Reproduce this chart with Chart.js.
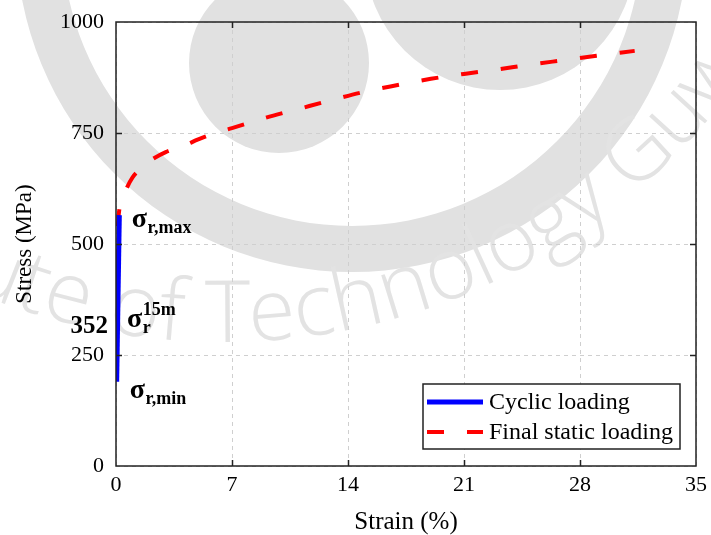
<!DOCTYPE html>
<html>
<head>
<meta charset="utf-8">
<script src="https://cdn.jsdelivr.net/npm/chart.js@4.4.1/dist/chart.umd.min.js"></script>
<style>
  html, body { margin: 0; padding: 0; background: #fff; }
  #wrap { width: 711px; height: 535px; position: relative; }
</style>
</head>
<body>
<div id="wrap"><canvas id="c"></canvas></div>
<script>
// Cyclic loading branch (strain %, stress MPa)
const cyclicStrain = [0.04, 0.20];
const cyclicStress = [190, 565];

// Final static loading branch (strain %, stress MPa)
const staticStrain = [0.0, 0.15, 0.35, 0.6, 1.0, 1.5, 2.0, 3.0, 4.0, 5.0, 6.0, 7.0, 9.0, 11.0, 13.0, 15.0, 17.0, 19.0, 21.0, 23.0, 25.0, 27.0, 29.0, 31.3];
const staticStress = [450, 560, 598, 622, 650, 670, 686, 707, 720, 736, 750, 761, 784, 804, 824, 843, 858, 872, 883, 893, 904, 914, 924, 935];

// Axis ticks
const xTicks = [0, 7, 14, 21, 28, 35];
const yTicks = [0, 250, 500, 750, 1000];

// Series names
const seriesNames = ['Cyclic loading', 'Final static loading'];

// Residual stress after 15 minutes of relaxation (MPa)
const residualAmplitude = 352;

const SERIF = "'Liberation Serif', 'Times New Roman', serif";
const WATERMARK_TEXT = 'Institute of Technology Guwahati';

const toPoints = (xs, ys) => xs.map((x, i) => ({ x, y: ys[i] }));

// Faint institutional watermark behind the figure
const watermarkPlugin = {
  id: 'watermark',
  beforeDraw(chart) {
    const { ctx } = chart;
    ctx.save();
    ctx.fillStyle = '#e1e1e1';
    // outer ring
    ctx.beginPath();
    ctx.arc(352, -64, 336, 0, Math.PI * 2);
    ctx.arc(352, -64, 290, 0, Math.PI * 2, true);
    ctx.fill();
    // inner discs
    ctx.beginPath();
    ctx.arc(279, 63, 90, 0, Math.PI * 2);
    ctx.fill();
    ctx.beginPath();
    ctx.arc(500, -45, 135, 0, Math.PI * 2);
    ctx.fill();

    // curved lettering around the ring
    const cx = 223, cy = -298, R = 640;
    ctx.font = "300 86px 'Open Sans', 'DejaVu Sans', sans-serif";
    ctx.fillStyle = '#e3e3e3';
    ctx.textAlign = 'center';
    ctx.textBaseline = 'alphabetic';
    const lead = ctx.measureText('Institute of ').width;
    let theta = 91.6 * Math.PI / 180 + lead / R;
    for (const ch of WATERMARK_TEXT) {
      const w = ctx.measureText(ch).width;
      const mid = theta - (w / 2) / R;
      ctx.save();
      ctx.translate(cx + R * Math.cos(mid), cy + R * Math.sin(mid));
      ctx.rotate(mid - Math.PI / 2);
      ctx.fillText(ch, 0, 0);
      ctx.restore();
      theta -= w / R;
    }
    ctx.restore();
  }
};

// Frame around the plotting area with inward tick marks on all sides
const framePlugin = {
  id: 'frame',
  afterDatasetsDraw(chart) {
    const { ctx, chartArea: a, scales: { x, y } } = chart;
    ctx.save();
    ctx.strokeStyle = '#222';
    ctx.lineWidth = 1.5;
    ctx.strokeRect(a.left, a.top, a.right - a.left, a.bottom - a.top);
    const tl = 6;
    ctx.beginPath();
    xTicks.slice(1, -1).forEach(v => {
      const px = Math.round(x.getPixelForValue(v)) + 0.5;
      ctx.moveTo(px, a.top); ctx.lineTo(px, a.top + tl);
      ctx.moveTo(px, a.bottom); ctx.lineTo(px, a.bottom - tl);
    });
    yTicks.slice(1, -1).forEach(v => {
      const py = Math.round(y.getPixelForValue(v)) + 0.5;
      ctx.moveTo(a.left, py); ctx.lineTo(a.left + tl, py);
      ctx.moveTo(a.right, py); ctx.lineTo(a.right - tl, py);
    });
    ctx.stroke();
    ctx.restore();
  }
};

// Sigma labels next to the cyclic branch
const sigmaPlugin = {
  id: 'sigmaLabels',
  afterDatasetsDraw(chart) {
    const { ctx, scales: { x, y } } = chart;
    const big = `bold 28px ${SERIF}`;
    const small = `bold 18px ${SERIF}`;
    ctx.save();
    ctx.fillStyle = '#000';
    ctx.textBaseline = 'alphabetic';
    ctx.textAlign = 'left';

    const sigma = (px, py, sub, sup) => {
      ctx.font = big;
      ctx.fillText('σ', px, py);
      const w = ctx.measureText('σ').width;
      ctx.font = small;
      if (sub) ctx.fillText(sub, px + w + 0.5, py + 6);
      if (sup) ctx.fillText(sup, px + w + 0.5, py - 12);
    };

    // upper end of the cycle
    const tx = x.getPixelForValue(cyclicStrain[1]);
    const ty = y.getPixelForValue(cyclicStress[1]);
    sigma(tx + 12.5, ty + 12, 'r,max');

    // lower end of the cycle
    const bx = x.getPixelForValue(cyclicStrain[0]);
    const by = y.getPixelForValue(cyclicStress[0]);
    sigma(bx + 13, by + 16, 'r,min');

    // residual stress after 15 minutes
    const ry = y.getPixelForValue(residualAmplitude);
    const rx = x.getPixelForValue(0);
    ctx.font = big;
    ctx.fillText('σ', rx + 11, ry + 17);
    const w = ctx.measureText('σ').width;
    ctx.font = small;
    ctx.fillText('r', rx + 11 + w + 0.5, ry + 23);
    ctx.fillText('15m', rx + 11 + w + 0.5, ry + 5);

    ctx.font = `bold 25px ${SERIF}`;
    ctx.textAlign = 'right';
    ctx.fillText(String(residualAmplitude), rx - 8, ry + 23);
    ctx.restore();
  }
};

// Boxed legend in the lower-right corner of the plot
const legendBoxPlugin = {
  id: 'legendBox',
  afterDraw(chart) {
    const { ctx, chartArea: a } = chart;
    const w = 257, h = 65;
    const left = a.right - 16 - w;
    const top = a.bottom - 17 - h;
    ctx.save();
    ctx.fillStyle = '#fff';
    ctx.fillRect(left, top, w, h);
    ctx.strokeStyle = '#222';
    ctx.lineWidth = 1.5;
    ctx.strokeRect(left, top, w, h);
    ctx.font = `24px ${SERIF}`;
    ctx.fillStyle = '#000';
    ctx.textBaseline = 'middle';
    chart.data.datasets.forEach((ds, i) => {
      const cy = top + 18 + i * 30;
      ctx.beginPath();
      ctx.strokeStyle = ds.borderColor;
      ctx.lineWidth = ds.borderWidth;
      ctx.setLineDash(ds.borderDash || []);
      ctx.moveTo(left + 4, cy);
      ctx.lineTo(left + 60, cy);
      ctx.stroke();
      ctx.setLineDash([]);
      ctx.fillText(ds.label, left + 66, cy + 1);
    });
    ctx.restore();
  }
};

// Let the layout padding alone decide where the plotting area sits
const noLabelPadding = s => {
  s.paddingTop = 0; s.paddingBottom = 0; s.paddingLeft = 0; s.paddingRight = 0;
};

new Chart(document.getElementById('c'), {
  type: 'scatter',
  data: {
    datasets: [
      {
        label: seriesNames[0],
        data: toPoints(cyclicStrain, cyclicStress),
        showLine: true,
        borderColor: '#0000ff',
        borderWidth: 5,
        pointRadius: 0,
        tension: 0
      },
      {
        label: seriesNames[1],
        data: toPoints(staticStrain, staticStress),
        showLine: true,
        borderColor: '#ff0000',
        borderWidth: 4,
        borderDash: [17, 23],
        pointRadius: 0,
        cubicInterpolationMode: 'monotone'
      }
    ]
  },
  options: {
    responsive: true,
    maintainAspectRatio: false,
    animation: false,
    layout: { padding: { top: 22, right: 15, left: 0, bottom: 0 } },
    plugins: {
      legend: { display: false },
      tooltip: { enabled: false }
    },
    scales: {
      x: {
        type: 'linear',
        min: 0, max: 35,
        afterBuildTicks: s => { s.ticks = xTicks.map(v => ({ value: v })); },
        afterFit: s => { s.height = 69; noLabelPadding(s); },
        ticks: { padding: 6, color: '#000', font: { family: SERIF, size: 22 }, callback: v => String(v) },
        grid: { color: '#cfcfcf', lineWidth: 1, drawTicks: false },
        border: { display: false, dash: [4, 4] },
        title: {
          display: true, text: 'Strain (%)', color: '#000',
          font: { family: SERIF, size: 25, lineHeight: 1 },
          padding: { top: 0, bottom: 0 }
        }
      },
      y: {
        type: 'linear',
        min: 0, max: 1000,
        afterBuildTicks: s => { s.ticks = yTicks.map(v => ({ value: v })); },
        afterFit: s => { s.width = 116; noLabelPadding(s); },
        ticks: { padding: 12, color: '#000', font: { family: SERIF, size: 22 }, callback: v => String(v) },
        grid: { color: '#cfcfcf', lineWidth: 1, drawTicks: false },
        border: { display: false, dash: [4, 4] },
        title: {
          display: true, text: 'Stress (MPa)', color: '#000',
          font: { family: SERIF, size: 23, lineHeight: 1 },
          padding: { top: 13, bottom: 0 }
        }
      }
    }
  },
  plugins: [watermarkPlugin, framePlugin, sigmaPlugin, legendBoxPlugin]
});
</script>
</body>
</html>
